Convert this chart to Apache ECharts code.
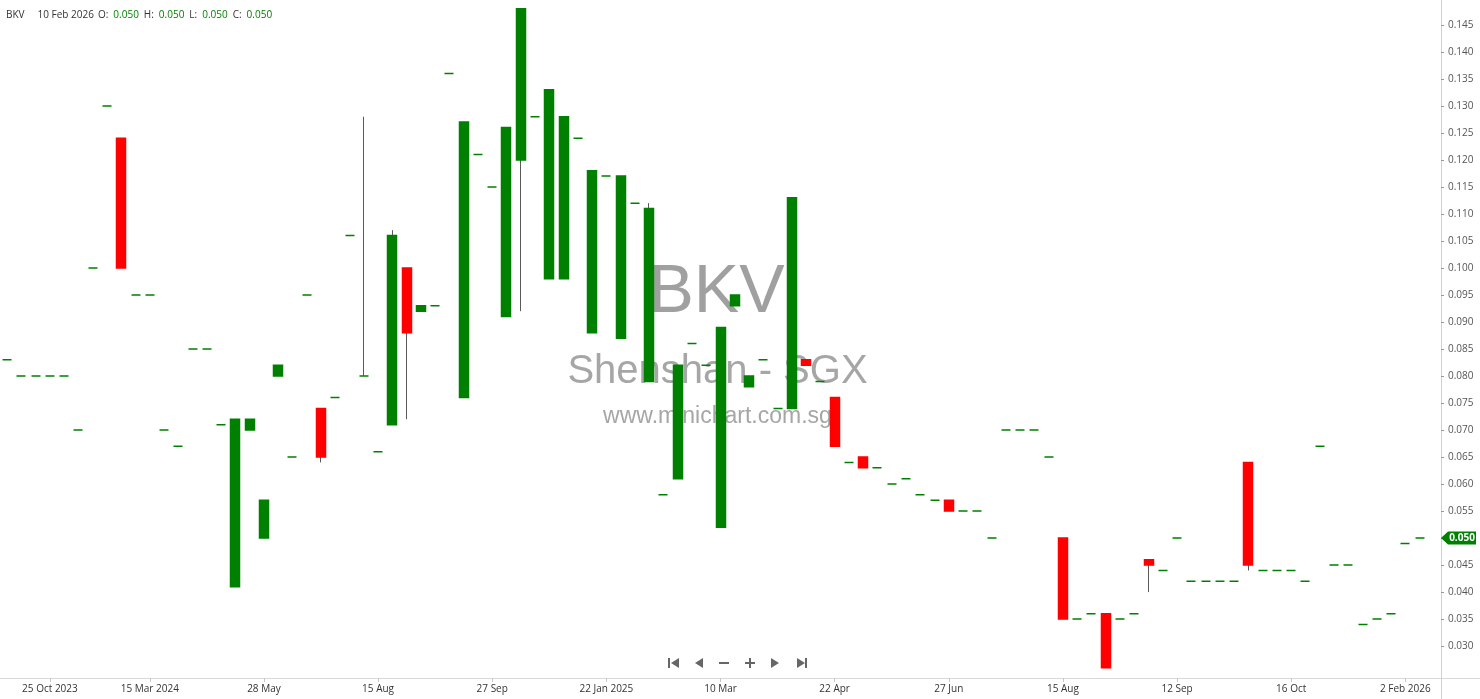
<!DOCTYPE html>
<html><head><meta charset="utf-8">
<script src="https://cdn.jsdelivr.net/npm/echarts@6/dist/echarts.min.js"></script>
<style>html,body{margin:0;padding:0;background:#fff}#c{width:1480px;height:699px}</style>
</head><body><div id="c"></div>
<script>
const ticker = 'BKV';
const lastDate = '10 Feb 2026';
const watermark = ['BKV', 'Shenshan - SGX', 'www.minichart.com.sg'];

const openP = [0.083,0.080,0.080,0.080,0.080,0.070,0.100,0.130,0.124,0.095,
  0.095,0.070,0.067,0.085,0.085,0.071,0.041,0.070,0.050,0.080,
  0.065,0.095,0.074,0.076,0.106,0.080,0.066,0.071,0.100,0.092,
  0.093,0.136,0.076,0.121,0.115,0.091,0.120,0.128,0.098,0.098,
  0.124,0.088,0.117,0.087,0.112,0.079,0.058,0.061,0.086,0.082,
  0.052,0.093,0.078,0.083,0.074,0.074,0.083,0.079,0.076,0.064,
  0.065,0.063,0.060,0.061,0.058,0.057,0.057,0.055,0.055,0.050,
  0.070,0.070,0.070,0.065,0.050,0.035,0.036,0.036,0.035,0.036,
  0.046,0.044,0.050,0.042,0.042,0.042,0.042,0.064,0.044,0.044,
  0.044,0.042,0.067,0.045,0.045,0.034,0.035,0.036,0.049,0.050];
const closeP = [0.083,0.080,0.080,0.080,0.080,0.070,0.100,0.130,0.100,0.095,
  0.095,0.070,0.067,0.085,0.085,0.071,0.072,0.072,0.057,0.082,
  0.065,0.095,0.065,0.076,0.106,0.080,0.066,0.106,0.088,0.093,
  0.093,0.136,0.127,0.121,0.115,0.126,0.148,0.128,0.133,0.128,
  0.124,0.118,0.117,0.117,0.112,0.111,0.058,0.082,0.086,0.082,
  0.089,0.095,0.080,0.083,0.074,0.113,0.082,0.079,0.067,0.064,
  0.063,0.063,0.060,0.061,0.058,0.057,0.055,0.055,0.055,0.050,
  0.070,0.070,0.070,0.065,0.035,0.035,0.036,0.026,0.035,0.036,
  0.045,0.044,0.050,0.042,0.042,0.042,0.042,0.045,0.044,0.044,
  0.044,0.042,0.067,0.045,0.045,0.034,0.035,0.036,0.049,0.050];
const lowP = [0.083,0.080,0.080,0.080,0.080,0.070,0.100,0.130,0.100,0.095,
  0.095,0.070,0.067,0.085,0.085,0.071,0.041,0.070,0.050,0.080,
  0.065,0.095,0.064,0.076,0.106,0.080,0.066,0.071,0.072,0.092,
  0.093,0.136,0.076,0.121,0.115,0.091,0.092,0.128,0.098,0.098,
  0.124,0.088,0.117,0.087,0.112,0.079,0.058,0.061,0.086,0.082,
  0.052,0.093,0.078,0.083,0.074,0.074,0.082,0.079,0.067,0.064,
  0.063,0.063,0.060,0.061,0.058,0.057,0.055,0.055,0.055,0.050,
  0.070,0.070,0.070,0.065,0.035,0.035,0.036,0.026,0.035,0.036,
  0.040,0.044,0.050,0.042,0.042,0.042,0.042,0.044,0.044,0.044,
  0.044,0.042,0.067,0.045,0.045,0.034,0.035,0.036,0.049,0.050];
const highP = [0.083,0.080,0.080,0.080,0.080,0.070,0.100,0.130,0.124,0.095,
  0.095,0.070,0.067,0.085,0.085,0.071,0.072,0.072,0.057,0.082,
  0.065,0.095,0.074,0.076,0.106,0.128,0.066,0.107,0.100,0.093,
  0.093,0.136,0.127,0.121,0.115,0.126,0.148,0.128,0.133,0.128,
  0.124,0.118,0.117,0.117,0.112,0.112,0.058,0.082,0.086,0.082,
  0.089,0.095,0.080,0.083,0.074,0.113,0.083,0.079,0.076,0.064,
  0.065,0.063,0.060,0.061,0.058,0.057,0.057,0.055,0.055,0.050,
  0.070,0.070,0.070,0.065,0.050,0.035,0.036,0.036,0.035,0.036,
  0.046,0.044,0.050,0.042,0.042,0.042,0.042,0.064,0.044,0.044,
  0.044,0.042,0.067,0.045,0.045,0.034,0.035,0.036,0.049,0.050];

const slotCount = 101;
const tickIndex = [3, 10, 18, 26, 34, 42, 50, 58, 66, 74, 82, 90, 98];
const tickLabels = ['25 Oct 2023','15 Mar 2024','28 May','15 Aug','27 Sep','22 Jan 2025',
  '10 Mar','22 Apr','27 Jun','15 Aug','12 Sep','16 Oct','2 Feb 2026'];
const yTicks = [0.030,0.035,0.040,0.045,0.050,0.055,0.060,0.065,0.070,0.075,0.080,0.085,
  0.090,0.095,0.100,0.105,0.110,0.115,0.120,0.125,0.130,0.135,0.140,0.145];

const UP = '#008000', DOWN = '#ff0000', WICK = '#5a5a5a';
const FONT = 'Open Sans';

const categories = Array.from({length: slotCount}, (_, i) => String(i));
const colorOf = i => closeP[i] < openP[i] ? DOWN : UP;

const wickData = openP.map((o, i) => ({
  value: [openP[i], closeP[i], lowP[i], highP[i]],
  itemStyle: {color: WICK, color0: WICK, borderColor: WICK, borderColor0: WICK, borderWidth: 1}
}));
const bodyData = openP.map((o, i) => {
  const c = closeP[i], col = colorOf(i);
  return {
    value: [o, c, Math.min(o, c), Math.max(o, c)],
    itemStyle: {color: col, color0: col, borderColor: col, borderColor0: col, borderWidth: 1.5}
  };
});

const last = openP.length - 1;
const fmt = v => v.toFixed(3);

const chart = echarts.init(document.getElementById('c'), null, {renderer: 'canvas'});
const option = {
  animation: false,
  backgroundColor: '#fff',
  title: {
    left: 6, top: 10, padding: 0,
    text: `{t|${ticker}}{d|${lastDate}}{k|O:}{v|${fmt(openP[last])}}{k|H:}{v|${fmt(highP[last])}}{k|L:}{v|${fmt(lowP[last])}}{k|C:}{v|${fmt(closeP[last])}}`,
    textStyle: {
      fontFamily: FONT, fontSize: 10, fontWeight: 'normal',
      rich: {
        t: {color: '#333', fontFamily: FONT, fontSize: 10, padding: [0, 13, 0, 0]},
        d: {color: '#333', fontFamily: FONT, fontSize: 10, padding: [0, 4, 0, 0]},
        k: {color: '#333', fontFamily: FONT, fontSize: 10, padding: [0, 5, 0, 0]},
        v: {color: UP, fontFamily: FONT, fontSize: 10, padding: [0, 5, 0, 0]}
      }
    }
  },
  grid: {left: 0, right: 39, top: 0, bottom: 21},
  xAxis: {
    type: 'category', data: categories, boundaryGap: true,
    axisLine: {show: true, lineStyle: {color: '#d9d9d9', width: 1}},
    axisTick: {show: true, alignWithLabel: true, length: 4, interval: i => tickIndex.includes(i), lineStyle: {color: '#c8c8c8'}},
    axisLabel: {
      interval: i => tickIndex.includes(i), margin: 6, color: '#333', fontFamily: FONT, fontSize: 10,
      formatter: (v, i) => { const k = tickIndex.indexOf(i); return k >= 0 ? tickLabels[k] : ''; }
    },
    splitLine: {show: false}
  },
  yAxis: {
    type: 'value', position: 'right', min: 0.0241, max: 0.1496, scale: true,
    axisLine: {show: true, lineStyle: {color: '#d0d0d0', width: 1}},
    axisTick: {show: true, length: 3, customValues: yTicks, lineStyle: {color: '#999'}},
    axisLabel: {customValues: yTicks, margin: 7, color: '#555', fontFamily: FONT, fontSize: 10, formatter: v => fmt(v)},
    splitLine: {show: false}
  },
  series: [
    {type: 'candlestick', name: 'wick', barWidth: 1, data: wickData, z: 2, silent: true},
    {type: 'candlestick', name: ticker, barWidth: 9.5, data: bodyData, z: 3, silent: true}
  ]
};
chart.setOption(option);

const py = chart.convertToPixel({yAxisIndex: 0}, closeP[last]);
const gridRect = chart.getModel().getComponent('grid').coordinateSystem.getRect();
const axisX = gridRect.x + gridRect.width;
const axisY = gridRect.y + gridRect.height;
const cx = gridRect.x + gridRect.width / 2;
const navY = 663, navC = '#666';
const graphic = [
  {type: 'text', z: 0, silent: true, style: {text: watermark[0], x: cx - 4, y: 293, textAlign: 'center', textVerticalAlign: 'middle', font: '68px "Liberation Sans", Arial, sans-serif', fill: '#a0a0a0'}},
  {type: 'text', z: 0, silent: true, style: {text: watermark[1], x: cx - 3, y: 372, textAlign: 'center', textVerticalAlign: 'middle', font: '40px "Liberation Sans", Arial, sans-serif', fill: '#a6a6a6'}},
  {type: 'text', z: 0, silent: true, style: {text: watermark[2], x: cx - 3, y: 417, textAlign: 'center', textVerticalAlign: 'middle', font: '23px "Liberation Sans", Arial, sans-serif', fill: '#a6a6a6'}},
  // axis line extensions past the plot corner
  {type: 'line', z: 1, silent: true, shape: {x1: axisX, y1: axisY + 0.5, x2: 1480, y2: axisY + 0.5}, style: {stroke: '#d9d9d9', lineWidth: 1}},
  {type: 'line', z: 1, silent: true, shape: {x1: axisX + 0.5, y1: axisY, x2: axisX + 0.5, y2: 699}, style: {stroke: '#d0d0d0', lineWidth: 1}},
  // navigation controls
  {type: 'rect', z: 0, silent: true, shape: {x: 668, y: navY - 5, width: 2, height: 10}, style: {fill: navC}},
  {type: 'polygon', z: 0, silent: true, shape: {points: [[679, navY - 5], [679, navY + 5], [671, navY]]}, style: {fill: navC}},
  {type: 'polygon', z: 0, silent: true, shape: {points: [[703, navY - 5], [703, navY + 5], [695, navY]]}, style: {fill: navC}},
  {type: 'rect', z: 0, silent: true, shape: {x: 719, y: navY - 1, width: 10, height: 2}, style: {fill: navC}},
  {type: 'rect', z: 0, silent: true, shape: {x: 745, y: navY - 1, width: 10, height: 2}, style: {fill: navC}},
  {type: 'rect', z: 0, silent: true, shape: {x: 749, y: navY - 5, width: 2, height: 10}, style: {fill: navC}},
  {type: 'polygon', z: 0, silent: true, shape: {points: [[771, navY - 5], [771, navY + 5], [779, navY]]}, style: {fill: navC}},
  {type: 'polygon', z: 0, silent: true, shape: {points: [[797, navY - 5], [797, navY + 5], [805, navY]]}, style: {fill: navC}},
  {type: 'rect', z: 0, silent: true, shape: {x: 805, y: navY - 5, width: 2, height: 10}, style: {fill: navC}},
  // last price tag
  {type: 'polygon', z: 10, silent: true, shape: {points: [[axisX, py], [axisX + 7, py - 6.5], [axisX + 35, py - 6.5], [axisX + 35, py + 6.5], [axisX + 7, py + 6.5]]}, style: {fill: UP}},
  {type: 'text', z: 11, silent: true, style: {text: fmt(closeP[last]), x: axisX + 21, y: py, textAlign: 'center', textVerticalAlign: 'middle', font: 'bold 10px "Open Sans", sans-serif', fill: '#fff'}}
];
chart.setOption({graphic: graphic});
</script>
</body></html>
